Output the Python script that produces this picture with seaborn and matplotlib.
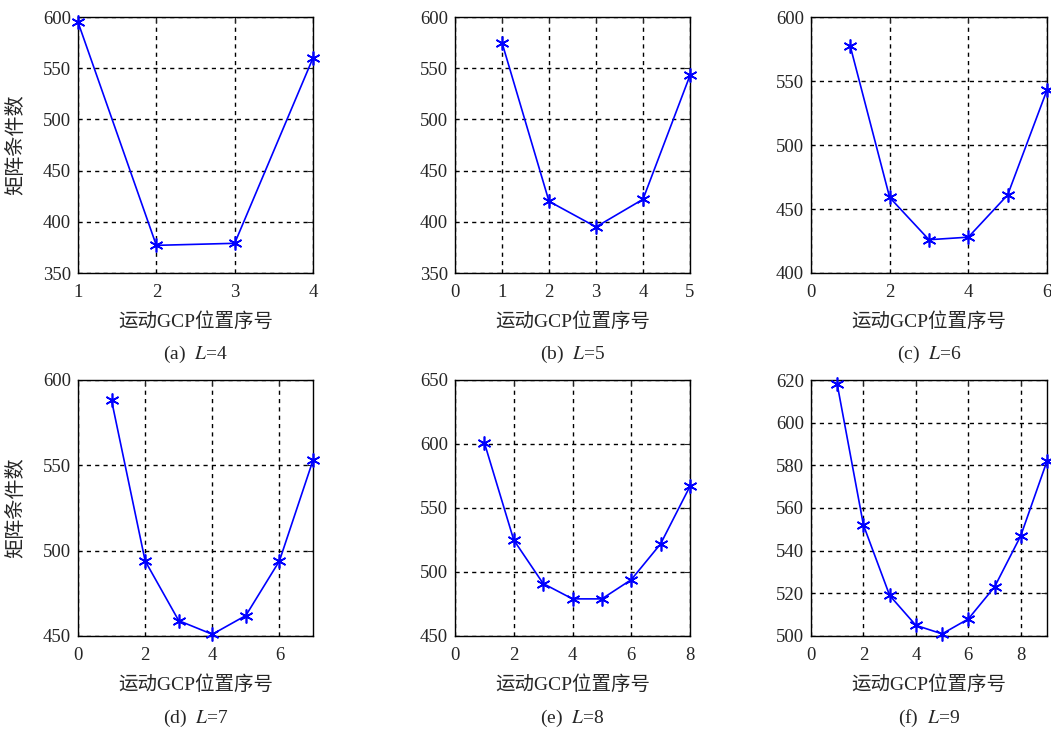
import matplotlib
matplotlib.use("Agg")
import matplotlib.pyplot as plt
import seaborn as sns
import pandas as pd

# condition numbers, one list per L
vals_L4 = [595, 377, 379, 560]
vals_L5 = [575, 420, 395, 422, 543]
vals_L6 = [577, 459, 426, 428, 461, 543]
vals_L7 = [588, 494, 459, 451, 462, 494, 553]
vals_L8 = [601, 525, 491, 479, 479, 494, 522, 567]
vals_L9 = [618, 552, 519, 505, 501, 508, 523, 547, 582]

captions = ["(a)  $L$=4", "(b)  $L$=5", "(c)  $L$=6",
            "(d)  $L$=7", "(e)  $L$=8", "(f)  $L$=9"]
xlabel = "运动GCP位置序号"
ylabel = "矩阵条件数"

xlims = [(1, 4), (0, 5), (0, 6), (0, 7), (0, 8), (0, 9)]
xticks = [[1, 2, 3, 4], [0, 1, 2, 3, 4, 5], [0, 2, 4, 6],
          [0, 2, 4, 6], [0, 2, 4, 6, 8], [0, 2, 4, 6, 8]]
ylims = [(350, 600), (350, 600), (400, 600), (450, 600), (450, 650), (500, 620)]
yticks = [range(350, 601, 50), range(350, 601, 50), range(400, 601, 50),
          range(450, 601, 50), range(450, 651, 50), range(500, 621, 20)]

sns.set_style("white")
plt.rcParams['font.family'] = ['Liberation Serif', 'Noto Sans CJK SC']
plt.rcParams['mathtext.fontset'] = 'stix'
plt.rcParams['font.size'] = 13.5

W, H = 1051, 729
fig = plt.figure(figsize=(W / 100, H / 100), dpi=100)

# axes boxes in pixels: left, top, right, bottom
boxes = [(78, 17, 313, 273), (455, 17, 690, 273), (811, 17, 1047, 273),
         (78, 380, 313, 636), (455, 380, 690, 636), (811, 380, 1047, 636)]

all_vals = [vals_L4, vals_L5, vals_L6, vals_L7, vals_L8, vals_L9]
star = (6, 2, 0)

for i, vals in enumerate(all_vals):
    l, t, r, b = boxes[i]
    ax = fig.add_axes([l / W, 1 - b / H, (r - l) / W, (b - t) / H])
    df = pd.DataFrame({"pos": range(1, len(vals) + 1), "val": vals})
    sns.lineplot(data=df, x="pos", y="val", ax=ax, color="#0000ff",
                 marker=star, markersize=10, markeredgewidth=1.2,
                 markeredgecolor="#0000ff", linewidth=1.2, clip_on=False,
                 zorder=5)
    ax.set_xlim(*xlims[i])
    ax.set_ylim(*ylims[i])
    ax.set_xticks(xticks[i])
    ax.set_yticks(list(yticks[i]))
    ax.grid(True, color="k", linestyle=(0, (3, 3)), linewidth=1)
    ax.tick_params(direction="in", length=4, top=True, right=True,
                   labelsize=13.5)
    ax.tick_params(axis="x", pad=8)
    ax.tick_params(axis="y", pad=5)
    for s in ax.spines.values():
        s.set_color("k")
        s.set_linewidth(1)
    ax.set_xlabel(xlabel, fontsize=14)
    ax.xaxis.set_label_coords(0.5, -0.155)
    if i % 3 == 0:
        ax.set_ylabel(ylabel, fontsize=14.5)
        ax.yaxis.set_label_coords(-0.22, 0.5)
    else:
        ax.set_ylabel("")
    cy = 354 if i < 3 else 718
    fig.text((l + r) / 2 / W, 1 - cy / H, captions[i], ha="center",
             va="center", fontsize=14)

fig.savefig("out.png", dpi=100)
